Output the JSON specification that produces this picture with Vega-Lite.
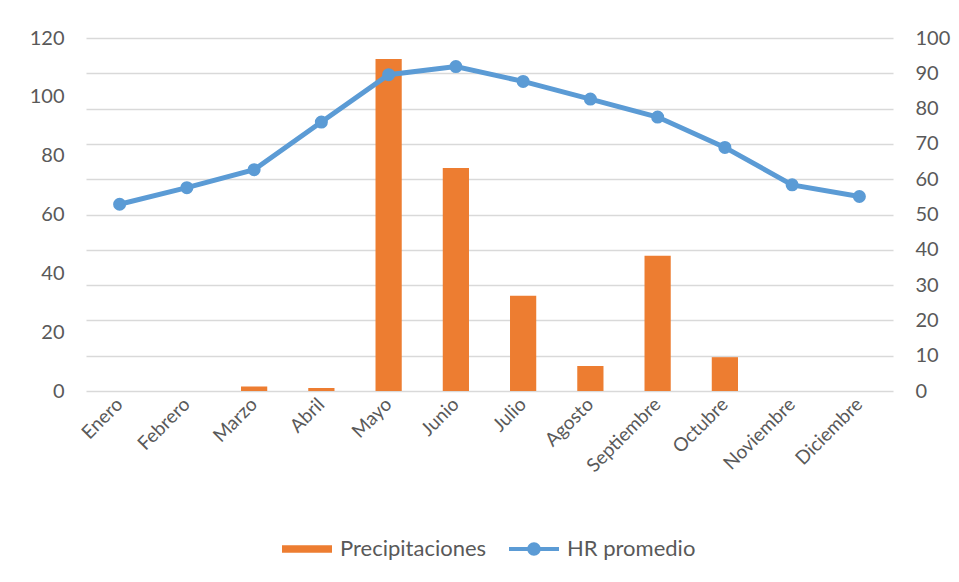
{
  "$schema": "https://vega.github.io/schema/vega-lite/v6.json",
  "width": 807,
  "height": 353,
  "autosize": {"type": "none"},
  "padding": {"left": 86, "top": 38, "right": 66, "bottom": 191},
  "background": "white",
  "config": {
    "font": "Lato",
    "view": {"stroke": null},
    "axis": {"labelFont": "Lato", "labelFontSize": 20, "labelColor": "#595959", "domain": false, "ticks": false, "title": null}
  },
  "data": {
    "values": [
      {"mes": "Enero", "precip": 0, "hr": 52.9},
      {"mes": "Febrero", "precip": 0, "hr": 57.6},
      {"mes": "Marzo", "precip": 1.5, "hr": 62.7},
      {"mes": "Abril", "precip": 1.0, "hr": 76.2},
      {"mes": "Mayo", "precip": 112.9, "hr": 89.6},
      {"mes": "Junio", "precip": 75.8, "hr": 91.9},
      {"mes": "Julio", "precip": 32.4, "hr": 87.7},
      {"mes": "Agosto", "precip": 8.5, "hr": 82.7},
      {"mes": "Septiembre", "precip": 46.0, "hr": 77.6},
      {"mes": "Octubre", "precip": 11.5, "hr": 69.0},
      {"mes": "Noviembre", "precip": 0, "hr": 58.4},
      {"mes": "Diciembre", "precip": 0, "hr": 55.1}
    ]
  },
  "encoding": {
    "x": {
      "field": "mes",
      "type": "nominal",
      "sort": null,
      "scale": {"paddingInner": 0, "paddingOuter": 0},
      "axis": {"labelAngle": -45, "labelAlign": "right", "labelBaseline": "middle", "labelPadding": 10, "labelFontSize": 19, "grid": false}
    }
  },
  "layer": [
    {
      "mark": {"type": "bar", "width": {"band": 0.39}},
      "encoding": {
        "y": {
          "field": "precip",
          "type": "quantitative",
          "scale": {"domain": [0, 120], "nice": false},
          "axis": {"orient": "left", "values": [0, 20, 40, 60, 80, 100, 120], "grid": false, "labelPadding": 22}
        },
        "color": {
          "datum": "Precipitaciones",
          "type": "nominal",
          "scale": {"domain": ["Precipitaciones", "HR promedio"], "range": ["#ED7D31", "#5B9BD5"]},
          "legend": {
            "title": null,
            "orient": "none",
            "direction": "horizontal",
            "legendX": 196,
            "legendY": 486,
            "labelFont": "Lato",
            "labelFontSize": 22,
            "labelColor": "#595959",
            "symbolSize": 2500,
            "columnPadding": 22,
            "labelOffset": 8,
            "encode": {
              "symbols": {
                "update": {
                  "shape": {"signal": "datum.value === 'Precipitaciones' ? 'M-1,-0.15H1V0.15H-1Z' : 'M-1,-0.08H1V0.08H-1Z M-0.27,0A0.27,0.27 0 1,1 0.27,0A0.27,0.27 0 1,1 -0.27,0Z'"},
                  "fill": {"signal": "datum.value === 'Precipitaciones' ? '#ED7D31' : '#5B9BD5'"},
                  "strokeWidth": {"value": 0},
                  "opacity": {"value": 1}
                }
              }
            }
          }
        }
      }
    },
    {
      "mark": {"type": "line", "interpolate": "linear", "strokeWidth": 5, "point": {"filled": true, "size": 170}},
      "encoding": {
        "y": {
          "field": "hr",
          "type": "quantitative",
          "scale": {"domain": [0, 100], "nice": false},
          "axis": {"orient": "right", "values": [0, 10, 20, 30, 40, 50, 60, 70, 80, 90, 100], "grid": true, "gridColor": "#D9D9D9", "gridWidth": 1.3, "labelPadding": 22}
        },
        "color": {"datum": "HR promedio", "type": "nominal"}
      }
    }
  ],
  "resolve": {"scale": {"y": "independent"}, "axis": {"y": "independent"}}
}
